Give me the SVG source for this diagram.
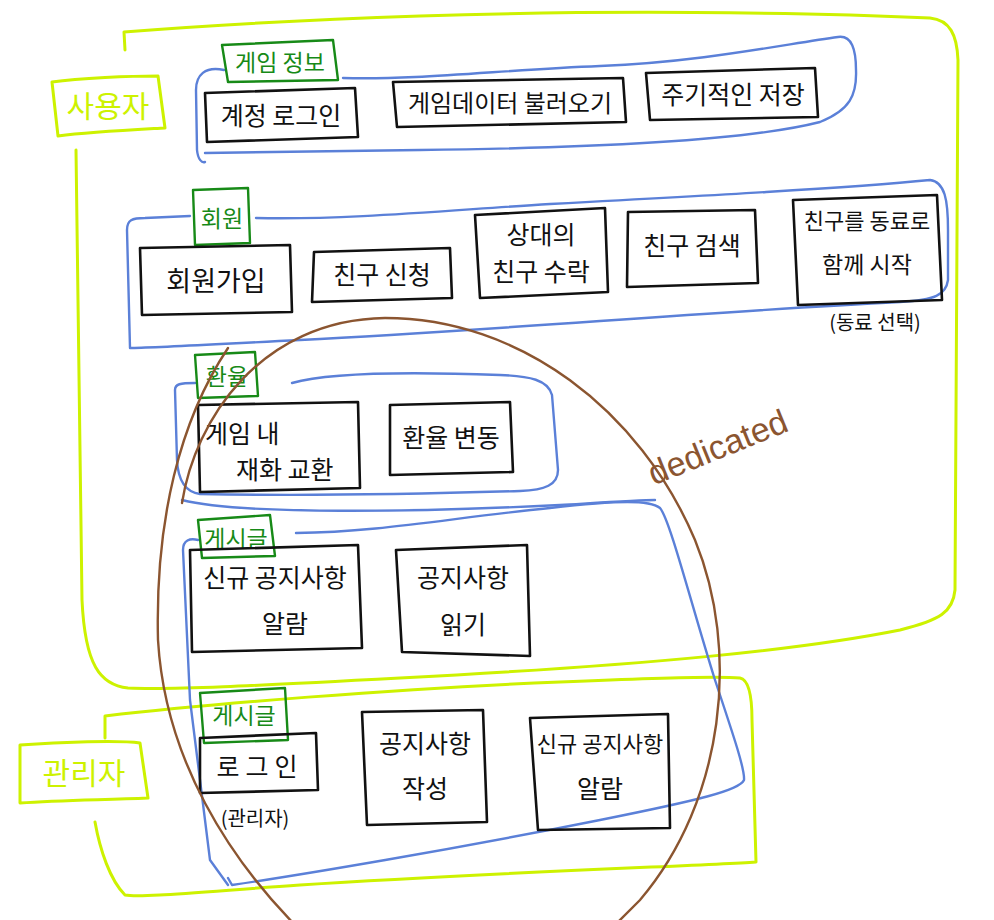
<svg xmlns="http://www.w3.org/2000/svg" width="994" height="920" viewBox="0 0 994 920">
<style>
.box{fill:none;stroke:#111;stroke-width:2.6;stroke-linejoin:round;stroke-linecap:round}
.grp{fill:none;stroke:#5b80d8;stroke-width:2.4;stroke-linecap:round;stroke-linejoin:round}
.lime{fill:none;stroke:#cdf200;stroke-width:3;stroke-linecap:round;stroke-linejoin:round}
.tag{fill:none;stroke:#178a17;stroke-width:2.4;stroke-linejoin:round;stroke-linecap:round}
.brown{fill:none;stroke:#8b5530;stroke-width:2.4;stroke-linecap:round}
.t{font-family:"Noto Sans CJK KR","Noto Sans",sans-serif;font-size:25px;fill:#111;text-anchor:middle}
.s{font-size:20px}
.tg{font-family:"Noto Sans CJK KR","Noto Sans",sans-serif;font-size:23px;fill:#178a17;text-anchor:middle}
.tl{font-family:"Noto Sans CJK KR","Noto Sans",sans-serif;font-size:30px;fill:#cdf200;text-anchor:middle}
</style>
<rect width="994" height="920" fill="#fff"/>

<g id="user-area">
<path class="lime" d="M125,50 L124,32 C200,26 300,20 420,16 C600,10 800,12 930,18 C950,20 957,35 958,60 L955,590 C953,612 940,620 900,630 C800,650 650,665 400,678 C250,686 170,690 128,688 C100,685 85,665 82,600 L76,150"/>
<path class="lime" d="M52,82 C80,78 130,76 158,76 L165,128 C130,130 90,132 58,136 Z"/>
<text class="tl" x="108" y="117">사용자</text>
</g>

<g id="admin-area">
<path class="lime" d="M105,738 L105,716 C200,705 400,688 560,682 C650,678 720,676 740,678 C750,680 752,700 752,720 L756,862 C700,866 500,872 300,885 C200,892 140,898 125,895 C110,880 100,850 95,822"/>
<path class="lime" d="M20,745 C60,742 120,740 140,743 L148,798 C100,800 60,800 20,803 Z"/>
<text class="tl" x="84" y="784">관리자</text>
</g>

<g id="group-gameinfo">
<path class="grp" d="M343,78 C420,80 500,70 600,66 C700,62 780,45 838,37 C852,35 856,50 856,70 C857,95 850,110 820,122 C750,140 600,148 420,150 C320,152 240,152 205,153"/>
<path class="grp" d="M224,70 C205,66 196,75 196,90 L197,150 C198,160 202,163 205,162"/>
<path class="tag" d="M222,45 L333,40 L338,80 L228,82 Z"/>
<text class="tg" x="280" y="71">게임 정보</text>
</g>
<g id="n-account-login"><path class="box" d="M205,93 L355,88 L358,137 L207,142 Z"/><text class="t" x="281" y="125">계정 로그인</text></g>
<g id="n-load-data"><path class="box" d="M393,82 L623,78 L626,122 L397,127 Z"/><text class="t" x="510" y="112" style="font-size:24px">게임데이터 불러오기</text></g>
<g id="n-periodic-save"><path class="box" d="M646,73 L815,68 L818,117 L650,120 Z"/><text class="t" x="733" y="104">주기적인 저장</text></g>

<g id="group-member">
<path class="grp" d="M256,218 C350,220 450,210 550,204 C700,196 850,188 930,180 C945,182 948,200 948,230 L948,280 C946,295 935,300 900,302 C700,312 500,330 300,340 C200,345 150,348 130,348 L127,230 C127,220 132,218 145,218 L190,216"/>
<path class="tag" d="M193,190 L248,188 L250,243 L195,245 Z"/>
<text class="tg" x="222" y="227">회원</text>
</g>
<g id="n-signup"><path class="box" d="M140,248 L290,245 L292,312 L142,315 Z"/><text class="t" x="216" y="291" style="font-size:27px">회원가입</text></g>
<g id="n-friend-request"><path class="box" d="M314,252 L450,248 L452,298 L312,302 Z"/><text class="t" x="382" y="284">친구 신청</text></g>
<g id="n-friend-accept"><path class="box" d="M475,215 L605,208 L608,292 L480,298 Z"/><text class="t" x="541" y="244">상대의</text><text class="t" x="541" y="281">친구 수락</text></g>
<g id="n-friend-search"><path class="box" d="M628,212 L755,210 L758,283 L627,287 Z"/><text class="t" x="692" y="255">친구 검색</text></g>
<g id="n-friend-start"><path class="box" d="M793,200 L937,195 L942,300 L798,305 Z"/><text class="t" x="867" y="229" style="font-size:22px">친구를 동료로</text><text class="t" x="867" y="273" style="font-size:23px">함께 시작</text><text class="t s" x="875" y="330">(동료 선택)</text></g>

<g id="group-exchange">
<path class="grp" d="M292,383 C330,372 420,372 500,375 C530,376 548,380 552,395 L558,470 C558,485 545,490 520,491 C420,494 300,496 200,494 C185,492 178,480 177,460 L175,390 C175,384 180,383 195,383"/>
<path class="tag" d="M195,355 L255,352 L258,396 L198,398 Z"/>
<text class="tg" x="227" y="385">환율</text>
</g>
<g id="n-currency-exchange"><path class="box" d="M198,405 L358,402 L360,488 L200,492 Z"/><text class="t" x="205" y="443" style="text-anchor:start">게임 내</text><text class="t" x="236" y="479" style="text-anchor:start">재화 교환</text></g>
<g id="n-rate-change"><path class="box" d="M390,405 L510,402 L513,472 L390,475 Z"/><text class="t" x="451" y="447">환율 변동</text></g>

<g id="group-board">
<path class="grp" d="M182,500 C240,515 420,512 560,505 C610,502 640,500 655,500"/>
<path class="grp" d="M296,533 C380,532 450,518 550,508 C620,500 650,500 660,508 C670,520 690,600 715,680 C735,740 745,770 744,780 C740,790 700,800 600,820 C450,850 300,875 232,885 L228,878"/>
<path class="grp" d="M198,540 C190,538 183,540 183,550 L190,700 L210,860 L228,885"/>
<path class="tag" d="M198,520 L270,515 L275,556 L202,558 Z"/>
<text class="tg" x="236" y="547">게시글</text>
<path class="tag" d="M200,693 L285,688 L288,740 L204,743 Z"/>
<text class="tg" x="244" y="724">게시글</text>
</g>
<g id="n-new-notice-alarm"><path class="box" d="M190,550 L358,545 L362,648 L192,652 Z"/><text class="t" x="275" y="587">신규 공지사항</text><text class="t" x="285" y="633">알람</text></g>
<g id="n-read-notice"><path class="box" d="M396,550 L527,545 L530,656 L402,652 Z"/><text class="t" x="463" y="587">공지사항</text><text class="t" x="463" y="634">읽기</text></g>
<g id="n-admin-login"><path class="box" d="M200,738 L316,733 L318,790 L200,793 Z"/><text class="t" x="260" y="776" style="letter-spacing:6px">로그인</text><text class="t s" x="255" y="826">(관리자)</text></g>
<g id="n-write-notice"><path class="box" d="M362,712 L483,710 L487,822 L367,825 Z"/><text class="t" x="425" y="753">공지사항</text><text class="t" x="425" y="798">작성</text></g>
<g id="n-admin-notice-alarm"><path class="box" d="M530,718 L668,714 L670,828 L538,830 Z"/><text class="t" x="600" y="752" style="font-size:22px">신규 공지사항</text><text class="t" x="600" y="798">알람</text></g>

<g id="connectors">
<path class="brown" d="M182,503 C195,420 260,320 385,318 C520,318 640,410 695,540 C740,650 725,800 640,900 L610,930 M300,930 C230,860 165,760 158,640 C155,520 180,420 228,348"/>
<text x="722" y="458" transform="rotate(-22 722 458)" style="font-family:'Liberation Sans',sans-serif;font-size:34px;fill:#8b5530;text-anchor:middle">dedicated</text>
</g>
</svg>
